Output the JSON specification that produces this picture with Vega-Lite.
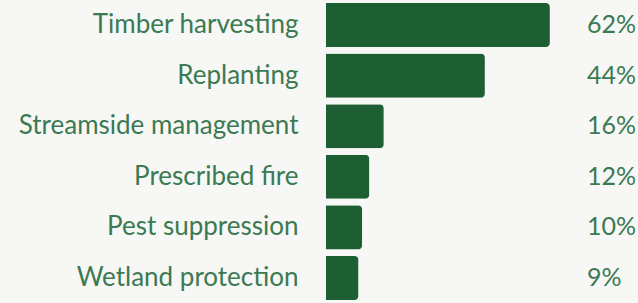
{
  "$schema": "https://vega.github.io/schema/vega-lite/v6.json",
  "autosize": "none",
  "width": 312,
  "height": 303,
  "padding": {"left": 326, "top": 0, "right": 0, "bottom": 0},
  "background": "#f7f7f5",
  "data": {"values": [
    {"activity": "Timber harvesting", "pct": 62, "label": "62%"},
    {"activity": "Replanting", "pct": 44, "label": "44%"},
    {"activity": "Streamside management", "pct": 16, "label": "16%"},
    {"activity": "Prescribed fire", "pct": 12, "label": "12%"},
    {"activity": "Pest suppression", "pct": 10, "label": "10%"},
    {"activity": "Wetland protection", "pct": 9, "label": "9%"}
  ]},
  "config": {"view": {"stroke": null}, "font": "Lato"},
  "encoding": {
    "y": {"field": "activity", "type": "nominal", "sort": null,
      "scale": {"paddingInner": 0.13, "paddingOuter": 0.06},
      "axis": {"title": null, "ticks": false, "domain": false, "labelFontSize": 26, "labelColor": "#3b7a52", "labelPadding": 28, "labelFont": "Lato", "labelLimit": 400}}
  },
  "layer": [
    {"mark": {"type": "bar", "color": "#1d5e33", "cornerRadiusEnd": 4},
     "encoding": {"x": {"field": "pct", "type": "quantitative", "scale": {"domain": [0, 86.4], "nice": false}, "axis": null}}},
    {"mark": {"type": "text", "align": "left", "baseline": "middle", "fontSize": 25, "color": "#3b7a52", "font": "Lato"},
     "encoding": {"x": {"datum": 72.3, "type": "quantitative"}, "text": {"field": "label", "type": "nominal"}}}
  ]
}
